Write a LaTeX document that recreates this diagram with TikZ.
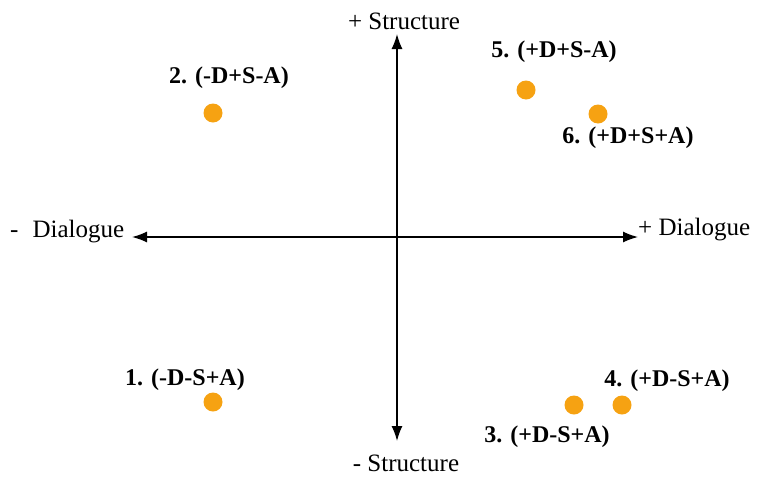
\documentclass[tikz,border=0pt]{standalone}
\usepackage{fontspec}
\setmainfont{Liberation Serif}
\usetikzlibrary{arrows.meta}
\definecolor{dotorange}{RGB}{246,162,18}
\tikzset{
  axis/.style={line width=1.4pt,{Latex[length=15pt,width=11pt]}-{Latex[length=15pt,width=11pt]}},
  axislabel/.style={inner sep=0pt,font=\fontsize{25}{28}\selectfont},
  dotlabel/.style={inner sep=0pt,font=\fontsize{24}{28}\selectfont\bfseries},
  dot/.style={circle,fill=dotorange,draw=none,minimum size=19pt,inner sep=0pt}
}
\begin{document}
\begin{tikzpicture}[x=1pt,y=-1pt]
\useasboundingbox (0,0) rectangle (760,477);
\coordinate (T) at (397,34);
\coordinate (B) at (397,441);
\coordinate (L) at (132,237);
\coordinate (R) at (638,237);
\draw[axis] (L) -- (R);
\draw[axis] (T) -- (B);
\node[axislabel] (ts) at (404,21) {+ Structure};
\node[axislabel] (bs) at (406,463) {- Structure};
\node[axislabel,anchor=west] (ld) at (10,232) {-\hspace{14pt}Dialogue};
\node[axislabel,anchor=west] (rd) at (638,230) {+ Dialogue};
\node[dot] (d2) at (213,113) {};
\node[dot] (d5) at (526,90) {};
\node[dot] (d6) at (598,114) {};
\node[dot] (d1) at (213,402) {};
\node[dot] (d3) at (574,405) {};
\node[dot] (d4) at (622,405) {};
\node[dotlabel] (l2) at (229,78) {2. (-D+S-A)};
\node[dotlabel] (l5) at (554,52) {5. (+D+S-A)};
\node[dotlabel] (l6) at (628,138) {6. (+D+S+A)};
\node[dotlabel] (l1) at (185,380) {1. (-D-S+A)};
\node[dotlabel] (l4) at (667,381) {4. (+D-S+A)};
\node[dotlabel] (l3) at (547,437) {3. (+D-S+A)};
\end{tikzpicture}
\end{document}
